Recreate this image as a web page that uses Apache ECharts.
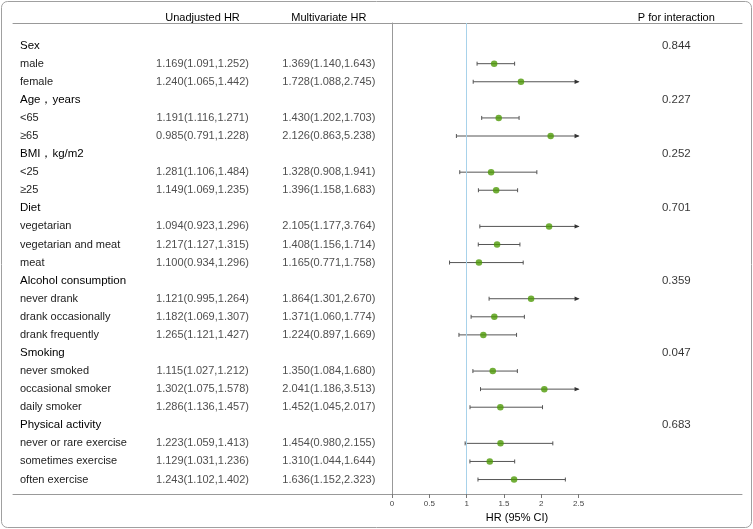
<!DOCTYPE html>
<html><head><meta charset="utf-8">
<script src="https://cdn.jsdelivr.net/npm/echarts@6/dist/echarts.min.js"></script>
<style>html,body{margin:0;padding:0;background:#fff}#c{width:753px;height:529px}</style>
</head><body><div id="c"></div>
<script>
// ---------------- data ----------------
const rowLabels = ['Sex','male','female','Age，years','<65','≥65','BMI，kg/m2','<25','≥25',
  'Diet','vegetarian','vegetarian and meat','meat','Alcohol consumption','never drank',
  'drank occasionally','drank frequently','Smoking','never smoked','occasional smoker',
  'daily smoker','Physical activity','never or rare exercise','sometimes exercise','often exercise'];
const isGroup = [1,0,0,1,0,0,1,0,0,1,0,0,0,1,0,0,0,1,0,0,0,1,0,0,0];
const pValues = ['0.844',null,null,'0.227',null,null,'0.252',null,null,'0.701',null,null,null,
  '0.359',null,null,null,'0.047',null,null,null,'0.683',null,null,null];

const unadjHR = [null,1.169,1.240,null,1.191,0.985,null,1.281,1.149,null,1.094,1.217,1.100,
  null,1.121,1.182,1.265,null,1.115,1.302,1.286,null,1.223,1.129,1.243];
const unadjLo = [null,1.091,1.065,null,1.116,0.791,null,1.106,1.069,null,0.923,1.127,0.934,
  null,0.995,1.069,1.121,null,1.027,1.075,1.136,null,1.059,1.031,1.102];
const unadjHi = [null,1.252,1.442,null,1.271,1.228,null,1.484,1.235,null,1.296,1.315,1.296,
  null,1.264,1.307,1.427,null,1.212,1.578,1.457,null,1.413,1.236,1.402];

const multiHR = [null,1.369,1.728,null,1.430,2.126,null,1.328,1.396,null,2.105,1.408,1.165,
  null,1.864,1.371,1.224,null,1.350,2.041,1.452,null,1.454,1.310,1.636];
const multiLo = [null,1.140,1.088,null,1.202,0.863,null,0.908,1.158,null,1.177,1.156,0.771,
  null,1.301,1.060,0.897,null,1.084,1.186,1.045,null,0.980,1.044,1.152];
const multiHi = [null,1.643,2.745,null,1.703,5.238,null,1.941,1.683,null,3.764,1.714,1.758,
  null,2.670,1.774,1.669,null,1.680,3.513,2.017,null,2.155,1.644,2.323];

const columnHeaders = ['', 'Unadjusted HR', 'Multivariate HR'];
const xTicks = [0, 0.5, 1, 1.5, 2, 2.5];

// ---------------- layout / style ----------------
const FONT = '"Liberation Sans", Arial, Helvetica, sans-serif';
const Y_MIN = -1.25, Y_MAX = 24.8;
const X_MAX = 4.69;
const CAP = 2.5;
const P_COL = 3.81;
const LINE = '#999';
const TXT = '#222';

const fmt = (h, l, u) => `${h.toFixed(3)}(${l.toFixed(3)},${u.toFixed(3)})`;
const tableData = [], ciData = [], hrData = [], pData = [];
rowLabels.forEach((_, i) => {
  if (unadjHR[i] != null) {
    tableData.push([1, i, fmt(unadjHR[i], unadjLo[i], unadjHi[i])]);
    tableData.push([2, i, fmt(multiHR[i], multiLo[i], multiHi[i])]);
    ciData.push([multiLo[i], multiHi[i], i]);
    hrData.push([multiHR[i], i]);
  }
  if (pValues[i] != null) pData.push([P_COL, i, pValues[i]]);
});

const chart = echarts.init(document.getElementById('c'));
chart.setOption({
  animation: false,
  textStyle: { fontFamily: FONT },
  graphic: [{
    type: 'rect', shape: { x: 1.5, y: 1.5, width: 750, height: 526, r: 6 },
    style: { fill: 'none', stroke: '#a0a0a0', lineWidth: 1 }, silent: true
  }],
  grid: [
    { left: 13, right: 361, top: 23, bottom: 35 },
    { left: 392, right: 11, top: 23, bottom: 35 }
  ],
  xAxis: [
    { gridIndex: 0, type: 'category', data: columnHeaders, position: 'bottom',
      axisLine: { onZero: false, lineStyle: { color: LINE } }, axisTick: { show: false }, axisLabel: { show: false } },
    { gridIndex: 0, type: 'category', data: columnHeaders, position: 'top',
      axisLine: { onZero: false, lineStyle: { color: LINE } }, axisTick: { show: false },
      axisLabel: { margin: 0, fontSize: 11, color: '#000', fontFamily: FONT } },
    { gridIndex: 1, type: 'value', min: 0, max: X_MAX, position: 'bottom',
      axisLine: { onZero: false, lineStyle: { color: LINE } },
      axisTick: { customValues: xTicks, length: 4, lineStyle: { color: '#777' } },
      axisLabel: { customValues: xTicks, fontSize: 8, color: '#444', margin: 6, fontFamily: FONT,
        formatter: v => String(v) },
      splitLine: { show: false },
      name: 'HR (95% CI)', nameLocation: 'middle', nameGap: 16,
      nameTextStyle: { fontSize: 11, color: '#000', fontFamily: FONT, padding: [0, 100, 0, 0] } },
    { gridIndex: 1, type: 'value', min: 0, max: X_MAX, position: 'top',
      axisLine: { onZero: false, lineStyle: { color: LINE } }, axisTick: { show: false },
      axisLabel: { customValues: [P_COL], formatter: () => 'P for interaction',
        margin: 0, fontSize: 11, color: '#000', fontFamily: FONT },
      splitLine: { show: false } }
  ],
  yAxis: [
    { gridIndex: 0, type: 'value', inverse: true, min: Y_MIN, max: Y_MAX,
      axisLine: { show: false, onZero: false }, axisTick: { show: false }, splitLine: { show: false },
      axisLabel: { inside: true, margin: 7, customValues: rowLabels.map((_, i) => i),
        formatter: v => {
          const i = Math.round(v);
          return isGroup[i] ? `{h|${rowLabels[i]}}` : `{s|${rowLabels[i]}}`;
        },
        rich: {
          h: { fontSize: 11.5, color: '#000', fontFamily: FONT },
          s: { fontSize: 11, color: TXT, fontFamily: FONT }
        } } },
    { gridIndex: 1, type: 'value', inverse: true, min: Y_MIN, max: Y_MAX,
      axisLine: { show: true, onZero: false, lineStyle: { color: LINE } }, axisTick: { show: false },
      axisLabel: { show: false }, splitLine: { show: false } }
  ],
  series: [
    { type: 'scatter', xAxisIndex: 0, yAxisIndex: 0, data: tableData, symbolSize: 0.1,
      itemStyle: { color: 'transparent' }, silent: true,
      label: { show: true, position: 'inside', formatter: p => p.data[2],
        fontSize: 11, color: TXT, fontFamily: FONT } },
    { type: 'scatter', xAxisIndex: 3, yAxisIndex: 1, data: pData, symbolSize: 0.1,
      itemStyle: { color: 'transparent' }, silent: true,
      label: { show: true, position: 'inside', formatter: p => p.data[2],
        fontSize: 11.5, color: '#000', fontFamily: FONT } },
    { type: 'custom', xAxisIndex: 2, yAxisIndex: 1, data: ciData, silent: true,
      encode: { x: [0, 1], y: 2 },
      renderItem: (params, api) => {
        const lo = api.value(0), hi = api.value(1), row = api.value(2);
        const trunc = hi > CAP;
        const p1 = api.coord([lo, row]);
        const p2 = api.coord([Math.min(hi, CAP), row]);
        const st = { stroke: '#555', lineWidth: 1 };
        const ch = [
          { type: 'line', shape: { x1: p1[0], y1: p1[1], x2: p2[0], y2: p2[1] }, style: st },
          { type: 'line', shape: { x1: p1[0], y1: p1[1] - 2, x2: p1[0], y2: p1[1] + 2 }, style: st }
        ];
        if (trunc) {
          ch.push({ type: 'polygon', shape: { points: [[p2[0] + 1, p2[1]], [p2[0] - 4, p2[1] - 2.2], [p2[0] - 4, p2[1] + 2.2]] },
            style: { fill: '#333' } });
        } else {
          ch.push({ type: 'line', shape: { x1: p2[0], y1: p2[1] - 2, x2: p2[0], y2: p2[1] + 2 }, style: st });
        }
        return { type: 'group', children: ch };
      } },
    { type: 'scatter', xAxisIndex: 2, yAxisIndex: 1, data: hrData, symbol: 'circle', symbolSize: 6.5,
      itemStyle: { color: '#4e9a06' }, z: 5,
      markLine: { silent: true, symbol: 'none', label: { show: false },
        lineStyle: { color: '#a8d2ea', width: 1, type: 'solid' }, data: [{ xAxis: 1 }] } }
  ]
});
</script></body></html>
